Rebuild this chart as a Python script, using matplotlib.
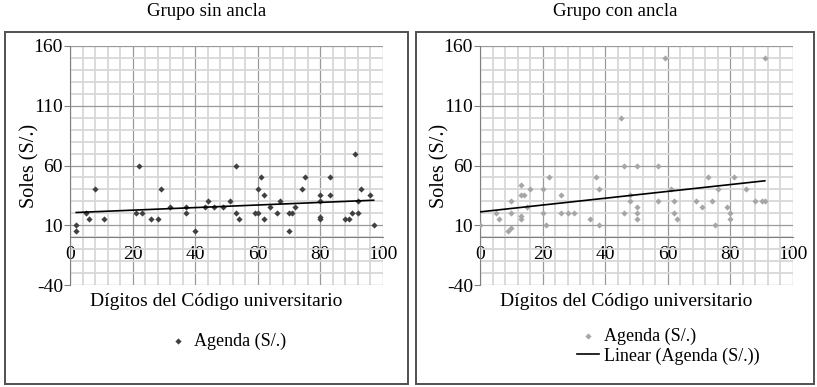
import numpy as np
import matplotlib
matplotlib.use("Agg")
import matplotlib.pyplot as plt
from matplotlib.patches import Rectangle
from matplotlib.ticker import MultipleLocator

plt.rcParams['font.family'] = ['Liberation Serif', 'DejaVu Serif']
plt.rcParams['axes.unicode_minus'] = False

# Grupo sin ancla
sin_x = [2, 2, 5, 6, 8, 11, 21, 22, 23, 26, 28, 29, 32, 37, 37, 40, 43, 44, 46, 49, 51, 53, 53, 54, 59, 60, 60,
         61, 62, 62, 64, 66, 67, 70, 70, 71, 72, 74, 75, 80, 80, 80, 80, 83, 83, 88, 89, 90, 91, 92, 92, 93, 96, 97]
sin_y = [10, 5, 20, 15, 40, 15, 20, 60, 20, 15, 15, 40, 25, 25, 20, 5, 25, 30, 25, 25, 30, 60, 20, 15, 20, 20, 40,
         50, 35, 15, 25, 20, 30, 20, 5, 20, 25, 40, 50, 35, 30, 17, 15, 50, 35, 15, 15, 20, 70, 20, 30, 40, 35, 10]

# Grupo con ancla
con_x = [0, 5, 6, 9, 10, 10, 10, 13, 13, 13, 13, 14, 15, 16, 20, 20, 21, 22, 26, 26, 28, 30, 35, 37, 38, 38,
         45, 46, 46, 48, 48, 50, 50, 50, 50, 57, 57, 59, 61, 62, 62, 63, 69, 71, 73, 74, 75, 76, 79, 80, 80,
         81, 85, 88, 90, 91, 91]
con_y = [10, 20, 15, 5, 8, 20, 30, 44, 35, 18, 15, 35, 25, 40, 40, 20, 10, 50, 35, 20, 20, 20, 15, 50, 40, 10,
         100, 60, 20, 35, 30, 60, 25, 20, 15, 60, 30, 150, 40, 30, 20, 15, 30, 25, 50, 30, 10, 40, 25, 20, 15,
         50, 40, 30, 30, 30, 150]

titles = ["Grupo sin ancla", "Grupo con ancla"]
x_label = "Dígitos del Código universitario"
y_label = "Soles (S/.)"

W, H = 817, 387
fig = plt.figure(figsize=(W / 100, H / 100), dpi=100)


def px(x0, y0, x1, y1):
    return [x0 / W, 1 - y1 / H, (x1 - x0) / W, (y1 - y0) / H]


def panel(rect, frame, title, xs, ys, color, with_line_legend):
    # frame around the whole chart
    fx0, fy0, fx1, fy1 = frame
    fig.patches.append(Rectangle((fx0 / W, 1 - fy1 / H), (fx1 - fx0) / W, (fy1 - fy0) / H,
                                 transform=fig.transFigure, fill=False, edgecolor='#505050', lw=1.4))
    fig.text((fx0 + fx1) / 2 / W, 1 - 12 / H, title, ha='center', va='center', fontsize=13.5)

    ax = fig.add_axes(px(*rect))
    ax.set_xlim(0, 100)
    ax.set_ylim(-40, 160)
    ax.xaxis.set_major_locator(MultipleLocator(20))
    ax.xaxis.set_minor_locator(MultipleLocator(4))
    ax.yaxis.set_minor_locator(MultipleLocator(10))
    ax.set_yticks([-40, 10, 60, 110, 160])
    ax.grid(which='minor', color='#d8d8d8', lw=1.3)
    ax.grid(which='major', color='#9a9a9a', lw=0.9)
    ax.set_axisbelow(True)
    for s in ['top', 'right']:
        ax.spines[s].set_visible(False)
    ax.spines['bottom'].set_position(('data', 0))
    ax.spines['bottom'].set_color('#808080')
    ax.spines['left'].set_color('#808080')
    ax.tick_params(axis='x', which='both', length=0, labelsize=14, pad=6)
    ax.tick_params(axis='y', which='major', length=4, color='#808080', labelsize=14, pad=1)
    ax.tick_params(axis='y', which='minor', length=0)
    ax.set_ylabel(y_label, fontsize=14.5)
    ax.yaxis.set_label_coords(-0.098, 0.5)
    ax.text(46.7, -47, x_label, ha='center', va='top', fontsize=14)

    sc = ax.scatter(xs, ys, marker='D', s=10, color=color, zorder=3, label='Agenda (S/.)', linewidths=0)
    a, b = np.polyfit(xs, ys, 1)
    lx = np.array([min(xs), max(xs)])
    ln, = ax.plot(lx, a * lx + b, color='black', lw=1.2, zorder=4, label='Linear (Agenda (S/.))')

    handles = [sc, ln] if with_line_legend else [sc]
    ax.legend(handles=handles, loc='upper left', bbox_to_anchor=(0.31, -0.178 if with_line_legend else -0.199),
              frameon=False, fontsize=13, handlelength=1.2, handletextpad=0.3, labelspacing=0.15,
              borderaxespad=0, borderpad=0)
    return ax


panel((70, 46, 383, 285), (5, 32, 408, 384), titles[0], sin_x, sin_y, '#404040', False)
panel((480, 46, 793, 285), (416, 32, 814, 384), titles[1], con_x, con_y, '#a6a6a6', True)

fig.savefig("out.png", dpi=100)
